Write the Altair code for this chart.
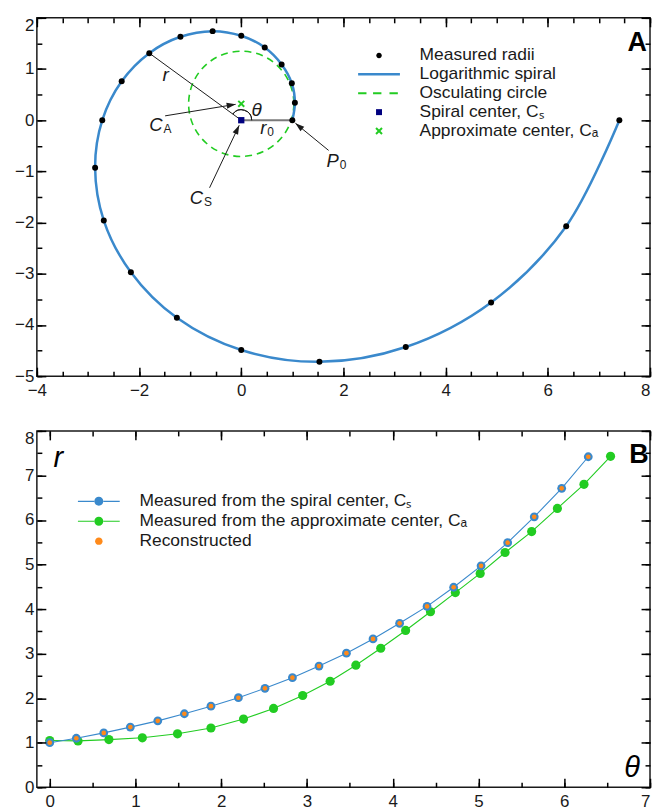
import math
import altair as alt
import pandas as pd

FONT = "Liberation Sans"
INK = "#1a1a1a"
BLUE = "#3a89cc"
GREEN = "#22cc22"
ORANGE = "#ff8a1a"
NAVY = "#00007f"
GRAY = "#7a7a7a"

# ---------------- Panel A values ----------------
spiral_x = [1.00, 1.05, 0.99, 0.79, 0.46, 0.00, -0.56, -1.19, -1.80, -2.34, -2.72,
            -2.86, -2.69, -2.16, -1.26, 0.00, 1.53, 3.22, 4.89, 6.36, 7.40]
spiral_y = [0.00, 0.34, 0.72, 1.09, 1.42, 1.65, 1.74, 1.63, 1.31, 0.76, 0.00,
            -0.93, -1.96, -2.97, -3.86, -4.49, -4.72, -4.43, -3.56, -2.07, 0.00]
spiral_center = [0.0, 0.0]
approx_center = [0.0, 0.32]
osc_radius = 1.03
r_index = 8  # measured point joined to the spiral centre by the "r" segment

arrow_from_x = [-1.49, -0.62, 1.71]
arrow_from_y = [0.085, -1.32, -0.59]
arrow_to_x = [-0.11, -0.04, 1.06]
arrow_to_y = [0.31, -0.10, -0.06]

sym_text = ["C", "C", "r", "P"]
sym_sub = ["A", "S", "0", "0"]
sym_x = [-1.54, -0.75, 0.49, 1.91]
sym_y = [-0.205, -1.63, -0.27, -0.92]

plain_text = ["r", "θ"]
plain_x = [-1.48, 0.30]
plain_y = [0.76, 0.085]

A_x_domain = [-4, 8]
A_y_domain = [-5, 2]
A_x_major = [-4, -2, 0, 2, 4, 6, 8]
A_x_minor = [-4, -3.5, -3, -2.5, -2, -1.5, -1, -0.5, 0, 0.5, 1, 1.5, 2, 2.5, 3, 3.5,
             4, 4.5, 5, 5.5, 6, 6.5, 7, 7.5, 8]
A_y_major = [-5, -4, -3, -2, -1, 0, 1, 2]
A_y_minor = [-5, -4.5, -4, -3.5, -3, -2.5, -2, -1.5, -1, -0.5, 0, 0.5, 1, 1.5, 2]

legend_A_labels = ["Measured radii", "Logarithmic spiral", "Osculating circle",
                   "Spiral center, Cₛ", "Approximate center, Cₐ"]
legend_A_colors = ["black", BLUE, GREEN, NAVY, GREEN]

# ---------------- Panel B values ----------------
theta_s = [0.00, 0.31, 0.63, 0.94, 1.26, 1.57, 1.88, 2.20, 2.51, 2.83, 3.14,
           3.46, 3.77, 4.08, 4.40, 4.71, 5.03, 5.34, 5.65, 5.97, 6.28]
r_s = [1.00, 1.10, 1.22, 1.35, 1.49, 1.65, 1.82, 2.01, 2.22, 2.46, 2.72,
       3.01, 3.33, 3.68, 4.06, 4.49, 4.97, 5.49, 6.07, 6.71, 7.42]
r_rec = [1.00, 1.10, 1.22, 1.35, 1.49, 1.65, 1.82, 2.01, 2.22, 2.46, 2.72,
         3.01, 3.33, 3.68, 4.06, 4.49, 4.97, 5.49, 6.07, 6.71, 7.42]
theta_a = [0.00, 0.33, 0.69, 1.08, 1.49, 1.88, 2.26, 2.61, 2.95, 3.27, 3.57,
           3.86, 4.15, 4.44, 4.73, 5.02, 5.31, 5.62, 5.92, 6.23, 6.54]
r_a = [1.05, 1.04, 1.07, 1.11, 1.20, 1.33, 1.53, 1.77, 2.06, 2.38, 2.74,
       3.12, 3.52, 3.94, 4.37, 4.80, 5.27, 5.74, 6.26, 6.80, 7.43]

B_x_domain = [-0.15, 7]
B_y_domain = [0, 8]
B_x_major = [0, 1, 2, 3, 4, 5, 6, 7]
B_x_minor = [0, 0.5, 1, 1.5, 2, 2.5, 3, 3.5, 4, 4.5, 5, 5.5, 6, 6.5, 7]
B_y_major = [0, 1, 2, 3, 4, 5, 6, 7, 8]
B_y_minor = [0, 0.5, 1, 1.5, 2, 2.5, 3, 3.5, 4, 4.5, 5, 5.5, 6, 6.5, 7, 7.5, 8]

legend_B_labels = ["Measured from the spiral center, Cₛ",
                   "Measured from the approximate center, Cₐ",
                   "Reconstructed"]
legend_B_colors = [BLUE, GREEN, ORANGE]

# ---------------- symbol paths (1 unit = 5 px at size 100) ----------------
P_DOT = "M-0.55,0A0.55,0.55,0,1,0,0.55,0A0.55,0.55,0,1,0,-0.55,0Z"
P_LINE = "M-4.2,-0.25L4.2,-0.25L4.2,0.25L-4.2,0.25Z"
P_DASH = ("M-4.2,-0.22L-2.52,-0.22L-2.52,0.22L-4.2,0.22Z"
          "M-1.2,-0.22L0.48,-0.22L0.48,0.22L-1.2,0.22Z"
          "M2.1,-0.22L3.78,-0.22L3.78,0.22L2.1,0.22Z")
P_SQUARE = "M-0.6,-0.6L0.6,-0.6L0.6,0.6L-0.6,0.6Z"
P_X = ("M-0.459,-0.741L0.741,0.459L0.459,0.741L-0.741,-0.459Z"
       "M0.459,-0.741L0.741,-0.459L-0.459,0.741L-0.741,0.459Z")
P_LINEDOT = ("M-4.2,-0.12L-0.85,-0.12L-0.85,0.12L-4.2,0.12Z"
             "M0.85,-0.12L4.2,-0.12L4.2,0.12L0.85,0.12Z"
             "M-0.9,0A0.9,0.9,0,1,0,0.9,0A0.9,0.9,0,1,0,-0.9,0Z")
P_BIGDOT = "M-0.75,0A0.75,0.75,0,1,0,0.75,0A0.75,0.75,0,1,0,-0.75,0Z"
P_ARROW = "M0,0L0.6,1.8L-0.6,1.8Z"

legend_A_shapes = [P_DOT, P_LINE, P_DASH, P_SQUARE, P_X]
legend_B_shapes = [P_LINEDOT, P_LINEDOT, P_BIGDOT]

W = 616
A_H = 360
B_H = 358


def axis(orient, values, size, labels=False, end_val=None):
    d = dict(orient=orient, values=values, tickSize=size, offset=-size, domain=False,
             grid=False, ticks=True, tickColor="#000000", tickWidth=1.5, title=None,
             labels=labels, zindex=1, minExtent=0, maxExtent=200)
    if labels:
        d.update(labelFont=FONT, labelFontSize=17, labelColor=INK, labelOverlap=False,
                 labelFlush=False)
        if orient in ("left", "right"):
            d.update(labelPadding=3,
                     labelBaseline={"condition": {"test": f"datum.value >= {end_val}",
                                                  "value": "top"},
                                    "value": "middle"})
        else:
            d.update(labelPadding=6,
                     labelAlign={"condition": {"test": f"datum.value >= {end_val}",
                                               "value": "right"},
                                 "value": "center"})
    return alt.Axis(**d)


def make_legend(x, y, row_pad):
    return alt.Legend(title=None, orient="none", legendX=x, legendY=y, labelFont=FONT,
                      labelFontSize=17.5, labelColor=INK, symbolSize=100,
                      symbolStrokeWidth=0, symbolOpacity=1, labelOffset=32,
                      symbolOffset=0, padding=0, rowPadding=row_pad, labelLimit=600)


# ================= Panel A =================
xA = alt.Scale(domain=A_x_domain, nice=False, zero=False)
yA = alt.Scale(domain=A_y_domain, nice=False, zero=False)
axA = {
    0: (axis("bottom", A_x_major, 9, True, end_val=8), axis("left", A_y_major, 9, True, end_val=2)),
    1: (axis("bottom", A_x_minor, 5), axis("left", A_y_minor, 5)),
    2: (axis("top", A_x_major, 9), axis("right", A_y_major, 9)),
    3: (axis("top", A_x_minor, 5), axis("right", A_y_minor, 5)),
}


def XA(f, i=None):
    return alt.X(f, type="quantitative", scale=xA, axis=axA[i][0] if i in axA else None)


def YA(f, i=None):
    return alt.Y(f, type="quantitative", scale=yA, axis=axA[i][1] if i in axA else None)


spiral_df = pd.DataFrame({"k": list(range(len(spiral_x))), "x": spiral_x, "y": spiral_y})
center_df = pd.DataFrame({"x": [spiral_center[0]], "y": [spiral_center[1]]})
approx_df = pd.DataFrame({"x": [approx_center[0]], "y": [approx_center[1]]})

px_per_unit = W / (A_x_domain[1] - A_x_domain[0])
osc_size = (2 * osc_radius * px_per_unit) ** 2

r0_df = pd.DataFrame({"x": [spiral_center[0]], "y": [spiral_center[1]],
                      "x2": [spiral_x[0]], "y2": [spiral_y[0]]})
r_df = pd.DataFrame({"x": [spiral_center[0]], "y": [spiral_center[1]],
                     "x2": [spiral_x[r_index]], "y2": [spiral_y[r_index]]})
phi = math.atan2(spiral_y[r_index] - spiral_center[1], spiral_x[r_index] - spiral_center[0])
arc_df = pd.DataFrame({"x": [spiral_center[0]], "y": [spiral_center[1]],
                       "t1": [math.pi / 2 - phi + 2 * math.pi], "t2": [math.pi / 2 + 2 * math.pi]})

arrow_df = pd.DataFrame({"x": arrow_from_x, "y": arrow_from_y, "x2": arrow_to_x, "y2": arrow_to_y})
arrow_df["ang"] = [(math.degrees(math.atan2(b - a, d - c)) + 360) % 360
                   for a, b, c, d in zip(arrow_from_x, arrow_to_x, arrow_from_y, arrow_to_y)]

sym_df = pd.DataFrame({"t": sym_text, "s": sym_sub, "x": sym_x, "y": sym_y})
plain_df = pd.DataFrame({"t": plain_text, "x": plain_x, "y": plain_y})
letterA_df = pd.DataFrame({"t": ["A"], "x": [7.75], "y": [1.36]})
legA_df = pd.DataFrame({"label": legend_A_labels, "x": [spiral_center[0]] * 5,
                        "y": [spiral_center[1]] * 5})

legA = make_legend(335, 29, 0)

layers_A = [
    alt.Chart(approx_df).mark_point(shape="circle", size=osc_size, filled=False, stroke=GREEN,
                                    strokeWidth=1.6, strokeDash=[7, 5], opacity=1)
    .encode(x=XA("x", 0), y=YA("y", 0)),
    alt.Chart(r0_df).mark_rule(color=GRAY, strokeWidth=2)
    .encode(x=XA("x", 1), y=YA("y", 1), x2="x2", y2="y2"),
    alt.Chart(r_df).mark_rule(color=INK, strokeWidth=1)
    .encode(x=XA("x", 2), y=YA("y", 2), x2="x2", y2="y2"),
    alt.Chart(arc_df).mark_arc(radius=10.5, radius2=10.5, filled=False, stroke=INK,
                               strokeWidth=1, fill=None)
    .encode(x=XA("x", 3), y=YA("y", 3),
            theta=alt.Theta("t1:Q", scale=None, stack=False), theta2="t2:Q"),
    alt.Chart(arrow_df).mark_rule(color=INK, strokeWidth=1)
    .encode(x=XA("x"), y=YA("y"), x2="x2", y2="y2"),
    alt.Chart(arrow_df).mark_point(shape=P_ARROW, filled=True, size=100, color=INK, opacity=1)
    .encode(x=XA("x2"), y=YA("y2"), angle=alt.Angle("ang:Q", scale=None)),
    alt.Chart(spiral_df).mark_line(interpolate="catmull-rom", color=BLUE, strokeWidth=2.5)
    .encode(x=XA("x"), y=YA("y"), order="k:Q"),
    alt.Chart(spiral_df).mark_circle(size=36, color="black", opacity=1)
    .encode(x=XA("x"), y=YA("y")),
    alt.Chart(center_df).mark_square(size=40, color=NAVY, opacity=1)
    .encode(x=XA("x"), y=YA("y")),
    alt.Chart(approx_df).mark_point(shape=P_X, filled=True, size=100, color=GREEN, opacity=1)
    .encode(x=XA("x"), y=YA("y")),
    alt.Chart(sym_df).mark_text(font=FONT, fontSize=18.5, fontStyle="italic", align="right",
                                baseline="alphabetic", color=INK)
    .encode(x=XA("x"), y=YA("y"), text="t:N"),
    alt.Chart(sym_df).mark_text(font=FONT, fontSize=12, align="left", baseline="alphabetic",
                                dx=1, dy=2, color=INK)
    .encode(x=XA("x"), y=YA("y"), text="s:N"),
    alt.Chart(plain_df).mark_text(font=FONT, fontSize=19, fontStyle="italic", align="center",
                                  baseline="alphabetic", color=INK)
    .encode(x=XA("x"), y=YA("y"), text="t:N"),
    alt.Chart(letterA_df).mark_text(font=FONT, fontSize=27, fontWeight="bold", align="center",
                                    baseline="alphabetic", color="black")
    .encode(x=XA("x"), y=YA("y"), text="t:N"),
    alt.Chart(legA_df).mark_point(filled=True, opacity=0, size=100)
    .encode(x=XA("x"), y=YA("y"),
            color=alt.Color("label:N", scale=alt.Scale(domain=legend_A_labels,
                                                       range=legend_A_colors), legend=legA),
            shape=alt.Shape("label:N", scale=alt.Scale(domain=legend_A_labels,
                                                       range=legend_A_shapes), legend=legA)),
]

panelA = alt.layer(*layers_A).resolve_axis(x="independent", y="independent") \
    .properties(width=W, height=A_H)

# ================= Panel B =================
xB = alt.Scale(domain=B_x_domain, nice=False, zero=False)
yB = alt.Scale(domain=B_y_domain, nice=False, zero=False)
axB = {
    0: (axis("bottom", B_x_major, 9, True, end_val=7), axis("left", B_y_major, 9, True, end_val=8)),
    1: (axis("bottom", B_x_minor, 5), axis("left", B_y_minor, 5)),
    2: (axis("top", B_x_major, 9), axis("right", B_y_major, 9)),
    3: (axis("top", B_x_minor, 5), axis("right", B_y_minor, 5)),
}


def XB(f, i=None):
    return alt.X(f, type="quantitative", scale=xB, axis=axB[i][0] if i in axB else None)


def YB(f, i=None):
    return alt.Y(f, type="quantitative", scale=yB, axis=axB[i][1] if i in axB else None)


s_df = pd.DataFrame({"t": theta_s, "r": r_s, "rr": r_rec})
a_df = pd.DataFrame({"t": theta_a, "r": r_a})
axis_sym_df = pd.DataFrame({"t": ["r", "θ"], "x": [0.10, 6.79], "y": [7.19, 0.23]})
letterB_df = pd.DataFrame({"t": ["B"], "x": [6.87], "y": [7.27]})
legB_df = pd.DataFrame({"label": legend_B_labels, "x": [theta_s[0]] * 3, "y": [r_s[0]] * 3})

legB = make_legend(53.5, 62, 1)

layers_B = [
    alt.Chart(a_df).mark_line(color=GREEN, strokeWidth=1.1)
    .encode(x=XB("t", 0), y=YB("r", 0)),
    alt.Chart(a_df).mark_circle(size=85, color=GREEN, opacity=1)
    .encode(x=XB("t", 1), y=YB("r", 1)),
    alt.Chart(s_df).mark_line(color=BLUE, strokeWidth=1.1)
    .encode(x=XB("t", 2), y=YB("r", 2)),
    alt.Chart(s_df).mark_circle(size=78, color=BLUE, opacity=1)
    .encode(x=XB("t", 3), y=YB("r", 3)),
    alt.Chart(s_df).mark_circle(size=22, color=ORANGE, opacity=1)
    .encode(x=XB("t"), y=YB("rr")),
    alt.Chart(axis_sym_df).mark_text(font=FONT, fontSize=29, fontStyle="italic",
                                     align="center", baseline="alphabetic", color="black")
    .encode(x=XB("x"), y=YB("y"), text="t:N"),
    alt.Chart(letterB_df).mark_text(font=FONT, fontSize=27, fontWeight="bold", align="center",
                                    baseline="alphabetic", color="black")
    .encode(x=XB("x"), y=YB("y"), text="t:N"),
    alt.Chart(legB_df).mark_point(filled=True, opacity=0, size=100)
    .encode(x=XB("x"), y=YB("y"),
            color=alt.Color("label:N", scale=alt.Scale(domain=legend_B_labels,
                                                       range=legend_B_colors), legend=legB),
            shape=alt.Shape("label:N", scale=alt.Scale(domain=legend_B_labels,
                                                       range=legend_B_shapes), legend=legB)),
]

panelB = alt.layer(*layers_B).resolve_axis(x="independent", y="independent") \
    .properties(width=W, height=B_H)

chart = alt.vconcat(panelA, panelB, spacing=30) \
    .resolve_scale(color="independent", shape="independent") \
    .properties(padding={"left": 5, "top": 6, "right": 0, "bottom": 0}) \
    .configure(font=FONT) \
    .configure_view(stroke=INK, strokeWidth=1.5)

chart.save("out.html", embed_options={"renderer": "svg", "actions": False})
